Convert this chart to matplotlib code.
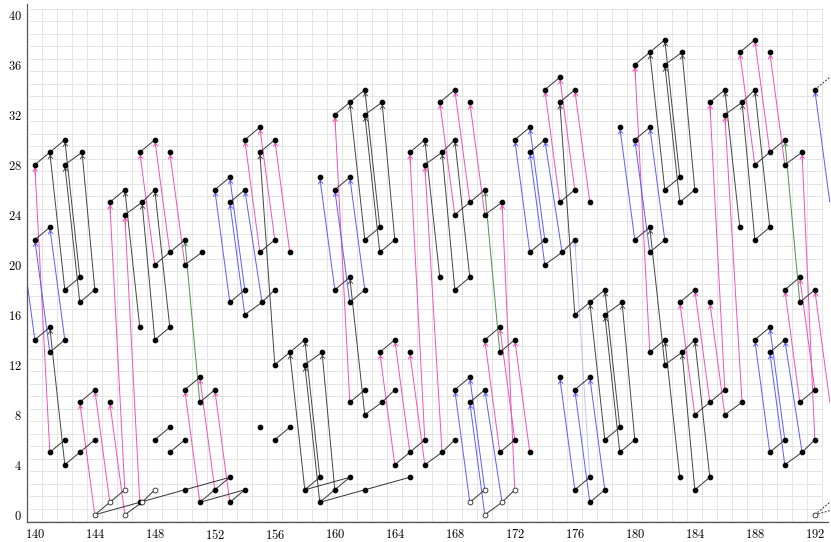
import matplotlib
matplotlib.use("Agg")
import matplotlib.pyplot as plt
import numpy as np

plt.rcParams['font.family'] = 'cmr10'
plt.rcParams['axes.formatter.use_mathtext'] = True

# black link chains (short connections between dots)
chains = [
    [(140, 28), (141, 29), (142, 30)], [(142, 28), (143.15, 29)], [(140, 22), (141, 23)],
    [(142, 18), (143, 19)], [(143, 17), (144, 18)], [(140, 14), (141, 15)], [(141, 13), (142, 14)],
    [(141, 5), (142, 6)], [(142, 4), (143, 5), (144, 6)], [(143, 9), (144, 10)],
    [(145, 25), (146, 26)], [(146, 24), (147.15, 25), (148, 26)], [(147, 29), (148, 30)],
    [(148, 20), (149, 21), (150, 22)], [(150, 20), (151.15, 21)], [(148, 14), (149, 15)],
    [(150, 10), (151, 11)], [(151, 9), (152, 10)], [(148, 6), (149, 7)], [(149, 5), (150, 6)],
    [(144, 0), (147, 1), (150, 2), (153, 3)], [(151, 1), (152, 2), (153, 3)],
    [(151, 1), (154, 2)], [(153, 1), (154, 2)],
    [(152, 26), (153, 27)], [(153, 25), (154, 26)], [(154, 30), (155, 31)], [(155, 29), (156, 30)],
    [(155, 21), (156, 22)], [(153, 17), (154, 18)], [(154, 16), (155.15, 17), (156, 18)],
    [(156, 12), (157, 13), (158, 14)], [(158, 12), (159.15, 13)], [(156, 6), (157, 7)],
    [(158, 2), (159, 3)], [(159, 1), (160, 2), (161, 3)], [(158, 2), (161, 3)],
    [(159, 1), (162, 2), (165, 3)],
    [(160, 26), (161, 27)], [(160, 32), (161, 33), (162, 34)], [(162, 32), (163.15, 33)],
    [(162, 22), (163, 23)], [(163, 21), (164, 22)], [(160, 18), (161, 19)], [(161, 17), (162, 18)],
    [(161, 9), (162, 10)], [(162, 8), (163.15, 9), (164, 10)], [(163, 13), (164, 14)],
    [(164, 4), (165, 5), (166, 6)], [(166, 4), (167.15, 5), (168, 6)],
    [(165, 29), (166, 30)], [(166, 28), (167.15, 29), (168, 30)], [(167, 33), (168, 34)],
    [(168, 24), (169, 25), (170, 26)], [(170, 24), (171.15, 25)], [(168, 18), (169, 19)],
    [(168, 10), (169, 11)], [(169, 9), (170, 10)], [(170, 14), (171, 15)], [(171, 13), (172, 14)],
    [(171, 5), (172, 6)],
    [(172, 30), (173, 31)], [(173, 29), (174, 30)], [(174, 34), (175, 35)], [(175, 33), (176, 34)],
    [(173, 21), (174, 22)], [(174, 20), (175.15, 21), (176, 22)], [(175, 25), (176, 26)],
    [(176, 16), (177, 17), (178, 18)], [(178, 16), (179.15, 17)], [(176, 10), (177, 11)],
    [(176, 2), (177, 3)], [(177, 1), (178, 2)], [(178, 6), (179, 7)], [(179, 5), (180, 6)],
    [(180, 30), (181, 31)], [(180, 36), (181, 37), (182, 38)], [(182, 36), (183.15, 37)],
    [(182, 26), (183, 27)], [(183, 25), (184, 26)], [(180, 22), (181, 23)], [(181, 21), (182, 22)],
    [(181, 13), (182, 14)], [(182, 12), (183.15, 13), (184, 14)], [(183, 17), (184, 18)],
    [(184, 2), (185, 3)], [(184, 8), (185, 9), (186, 10)], [(186, 8), (187.15, 9)],
    [(185, 33), (186, 34)], [(186, 32), (187.15, 33), (188, 34)], [(187, 37), (188, 38)],
    [(188, 28), (189, 29), (190, 30)], [(190, 28), (191.15, 29)], [(188, 22), (189, 23)],
    [(188, 14), (189, 15)], [(189, 13), (190, 14)], [(190, 18), (191, 19)], [(191, 17), (192, 18)],
    [(189, 5), (190, 6)], [(190, 4), (191.15, 5), (192, 6)], [(191, 9), (192, 10)],
]
open_chains = [
    [(144, 0), (145, 1), (146, 2)], [(146, 0), (147.15, 1), (148, 2)],
    [(169, 1), (170, 2)], [(170, 0), (171.15, 1), (172, 2)],
]
dashed_chains = [[(192, 34), (193, 35)], [(192, 0), (193, 1)], [(192, 0), (195, 1)]]
open_points = [(144, 0), (145, 1), (146, 2), (146, 0), (147.15, 1), (148, 2),
               (169, 1), (170, 2), (170, 0), (171.15, 1), (172, 2), (192, 0)]
lone_points = [(155, 7)]

# long arrows: (x_top, y_top, x_bottom, y_bottom)
pink_lines = [
    (140, 28, 141, 5), (143, 9, 144, 0), (144, 10, 145, 1), (145, 9, 146, 0),
    (145, 25, 146, 2), (146, 24, 147, 1), (147, 29, 148, 20), (148, 30, 149, 21), (149, 29, 150, 20),
    (150, 10, 151, 1), (151, 11, 152, 2), (152, 10, 153, 1),
    (154, 30, 155, 21), (155, 31, 156, 22), (156, 30, 157, 21),
    (160, 32, 161, 9), (163, 13, 164, 4), (164, 14, 165, 5), (165, 13, 166, 4),
    (165, 29, 166, 6), (166, 28, 167.15, 5),
    (167, 33, 168, 24), (168, 34, 169, 25), (169, 33, 170, 24), (170, 14, 171, 5),
    (171, 15, 172, 6), (172, 14, 173, 5), (171.15, 25, 172, 2),
    (174, 34, 175, 25), (175, 35, 176, 26), (176, 34, 177, 25),
    (180, 36, 181, 13), (183, 17, 184, 8), (184, 18, 185, 9), (185, 17, 186, 8),
    (185, 33, 186, 10), (186, 32, 187.15, 9),
    (187, 37, 188, 28), (188, 38, 189, 29), (189, 37, 190, 28), (190, 18, 191, 9),
    (191, 19, 192, 10), (192, 18, 193, 9), (191.15, 29, 192, 6),
]
blue_lines = [
    (139, 23, 140, 14), (140, 22, 141, 13), (141, 23, 142, 14),
    (152, 26, 153, 17), (153, 27, 154, 18), (153, 25, 154, 16), (154, 26, 155.15, 17),
    (159, 27, 160, 18), (160, 26, 161, 17), (161, 27, 162, 18),
    (168, 10, 169, 1), (169, 11, 170, 2), (169, 9, 170, 0), (170, 10, 171.15, 1),
    (172, 30, 173, 21), (173, 31, 174, 22), (173, 29, 174, 20), (174, 30, 175.15, 21),
    (175, 11, 176, 2), (176, 10, 177, 1), (177, 11, 178, 2),
    (179, 31, 180, 22), (180, 30, 181, 21), (181, 31, 182, 22),
    (188, 14, 189, 5), (189, 15, 190, 6), (189, 13, 190, 4), (190, 14, 191.15, 5),
    (192, 34, 193, 25),
]
black_lines = [
    (141, 29, 142, 18), (142, 30, 143, 19), (142, 28, 143, 17), (143.15, 29, 144, 18),
    (141, 15, 142, 4),
    (146, 26, 147, 15), (147.15, 25, 148, 14), (148, 26, 149, 15),
    (155, 29, 156, 12), (157, 13, 158, 2), (158, 14, 159, 3), (158, 12, 159, 1), (159.15, 13, 160, 2),
    (161, 33, 162, 22), (162, 34, 163, 23), (162, 32, 163, 21), (163.15, 33, 164, 22),
    (161, 19, 162, 8),
    (166, 30, 167, 19), (167.15, 29, 168, 18), (168, 30, 169, 19),
    (175, 33, 176, 16), (177, 17, 178, 6), (178, 18, 179, 7), (178, 16, 179, 5), (179.15, 17, 180, 6),
    (181, 37, 182, 26), (182, 38, 183, 27), (182, 36, 183, 25), (183.15, 37, 184, 26),
    (181, 23, 182, 12), (182, 14, 183, 3), (183.15, 13, 184, 2), (184, 14, 185, 3),
    (186, 34, 187, 23), (187.15, 33, 188, 22), (188, 34, 189, 23),
]
green_lines = [(150, 22, 151, 9), (170, 26, 171, 13), (190, 30, 191, 17)]
faint_lines = [(176, 22, 177, 3)]

xticks = list(range(140, 193, 4))
yticks = list(range(0, 41, 4))

XMAX_SHOWN = 192.9

fig = plt.figure(figsize=(8.31, 5.42), dpi=100)
ax = fig.add_axes([27.3 / 831, 19.7 / 542, 810 / 831, 518.75 / 542])
ax.set_xlim(139.5, 193.5)
ax.set_ylim(-0.6, 40.9)

# light grid at half units
grid_c = '#e4e4e4'
ax.vlines(np.arange(140.5, 193, 1), -0.6, 40.5, color=grid_c, lw=0.7, zorder=0)
ax.hlines(np.arange(-0.5, 41, 1), 139.6, 192.5, color=grid_c, lw=0.7, zorder=0)

for spine in ['top', 'right']:
    ax.spines[spine].set_visible(False)
ax.spines['bottom'].set_bounds(139.5, XMAX_SHOWN)
for spine in ['left', 'bottom']:
    ax.spines[spine].set_color('#555555')
    ax.spines[spine].set_linewidth(0.9)

ax.set_xticks(xticks)
ax.set_yticks(yticks)
ax.tick_params(length=0, labelsize=9, pad=4)


def draw_long(lines, color, lw=0.7, alpha=1.0):
    for xt, yt, xb, yb in lines:
        ax.plot([xt, xb], [yt, yb], color=color, lw=lw, alpha=alpha, zorder=2,
                solid_capstyle='butt')
        # small open arrow head at the upper end
        fx = xt + (xb - xt) * 0.04
        fy = yt + (yb - yt) * 0.04
        if 139.5 <= xt <= XMAX_SHOWN:
            ax.annotate('', xy=(xt, yt), xytext=(fx, fy),
                        arrowprops=dict(arrowstyle='->,head_length=0.2,head_width=0.16',
                                        color=color, lw=0.7, alpha=alpha,
                                        shrinkA=0, shrinkB=2.0),
                        zorder=3)


draw_long(black_lines, '#454545')
draw_long(pink_lines, '#f052b8')
draw_long(blue_lines, '#5c5cff')
draw_long(green_lines, '#4d8f4d')
draw_long(faint_lines, '#9a9aff', alpha=0.6)

for ch in chains + open_chains:
    xs, ys = zip(*ch)
    ax.plot(xs, ys, color='#333333', lw=0.7, zorder=4)
for ch in dashed_chains:
    xs, ys = zip(*ch)
    ax.plot(xs, ys, color='#333333', lw=0.7, ls=(0, (2, 1.5)), zorder=4)

# filled dots: every vertex except the open ones, only inside the drawn range
pts = set()
for ch in chains:
    pts.update(ch)
for xt, yt, xb, yb in pink_lines + blue_lines + black_lines + green_lines + faint_lines:
    pts.add((xt, yt))
    pts.add((xb, yb))
pts.update(lone_points)
pts.difference_update(open_points)
pts = [p for p in pts if 139.5 <= p[0] <= XMAX_SHOWN]
fx, fy = zip(*sorted(pts))
ax.plot(fx, fy, 'o', color='black', ms=3.1, zorder=5)
ox, oy = zip(*open_points)
ax.plot(ox, oy, 'o', mfc='white', mec='#222222', mew=0.6, ms=3.5, zorder=6)

fig.savefig('out.png', dpi=100)
